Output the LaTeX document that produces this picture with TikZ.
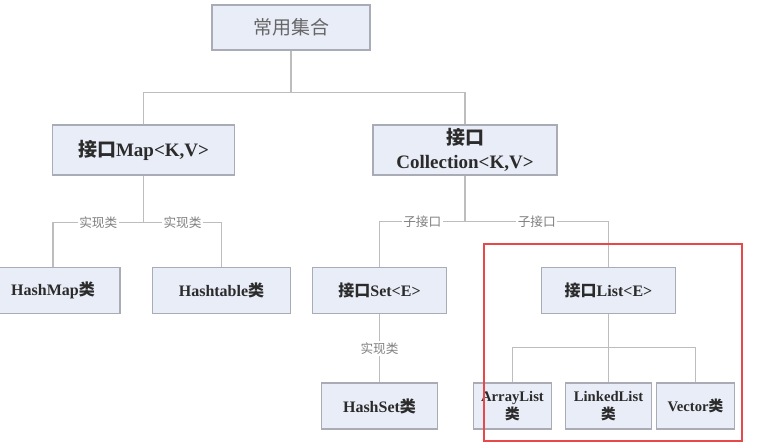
\documentclass[tikz,border=0pt]{standalone}
\usepackage{fontspec}
\setmainfont{Liberation Serif}
\newfontfamily\cjk{Noto Sans CJK SC}
\usepackage{xcolor}
\usetikzlibrary{positioning,calc}
\definecolor{boxfill}{HTML}{E9EDF7}
\definecolor{boxline}{HTML}{A9ACB4}
\definecolor{linkgray}{HTML}{BDBDBD}
\definecolor{txtdark}{HTML}{2B2B2B}
\definecolor{markred}{HTML}{E8484A}
\newcommand{\zh}[1]{{\cjk #1}}
\newcommand{\fbig}{\fontsize{14.25pt}{18pt}\selectfont}
\newcommand{\fmid}{\fontsize{12pt}{14pt}\selectfont}
\newcommand{\fsml}{\fontsize{11pt}{14pt}\selectfont}

\begin{document}
\begin{tikzpicture}[x=0.75pt, y=-0.75pt,
  box/.style={draw=boxline, fill=boxfill, line width=0.8pt, inner sep=0pt,
    text=txtdark, font=\bfseries, align=center},
  link/.style={draw=linkgray, line width=0.8pt},
  lbl/.style={fill=white, inner sep=1pt, text=gray, font=\cjk\fontsize{9.5pt}{11pt}\selectfont}]
\useasboundingbox (0,0) rectangle (769,444);
% levels
\node[box, minimum width=118.5pt, minimum height=33.75pt, font=\fbig, text=gray!80!black] (top) at (291,27.5) {\zh{常用集合}};
\node[box, minimum width=137pt, minimum height=37.5pt, font=\fbig\bfseries] (map) at (143.5,150) {\zh{接口}Map<K,V>};
\node[box, minimum width=138pt, minimum height=37.5pt, font=\fbig\bfseries] (coll) at (465,150) {\zh{接口}\\Collection<K,V>};
\node[box, minimum width=100.5pt, minimum height=35pt, font=\fmid\bfseries] (hashmap) at (53,290.5) {HashMap\zh{类}};
\node[box, minimum width=104pt, minimum height=35pt, font=\fmid\bfseries] (hashtable) at (221.5,290.5) {Hashtable\zh{类}};
\node[box, minimum width=100.5pt, minimum height=35pt, font=\fmid\bfseries] (set) at (379.5,290.5) {\zh{接口}Set<E>};
\node[box, minimum width=100pt, minimum height=35pt, font=\fmid\bfseries] (list) at (608.5,290.5) {\zh{接口}List<E>};
\node[box, minimum width=87pt, minimum height=34.5pt, font=\fmid\bfseries] (hashset) at (379.5,406) {HashSet\zh{类}};
\node[box, minimum width=59pt, minimum height=34.5pt, font=\fsml\bfseries] (array) at (512.5,406) {ArrayList\\\zh{类}};
\node[box, minimum width=64.5pt, minimum height=34.5pt, font=\fsml\bfseries] (linked) at (608.5,406) {LinkedList\\\zh{类}};
\node[box, minimum width=59pt, minimum height=34.5pt, font=\fsml\bfseries] (vector) at (695.5,406) {Vector\zh{类}};
% connectors
\coordinate (j0) at ($(top.south)+(0,42)$);
\draw[link] (top.south) -- (j0) -| (map.north);
\draw[link] (j0) -| (coll.north);
\coordinate (j1) at ($(map.south)+(0,47)$);
\draw[link] (map.south) -- (j1) -| node[pos=0.25, lbl] {实现类} (hashmap.north);
\draw[link] (j1) -| node[pos=0.25, lbl] {实现类} (hashtable.north);
\coordinate (j2) at ($(coll.south)+(0,46)$);
\draw[link] (coll.south) -- (j2) -| node[pos=0.25, lbl] {子接口} (set.north);
\draw[link] (j2) -| node[pos=0.25, lbl] {子接口} (list.north);
\draw[link] (set.south) -- node[lbl] {实现类} (hashset.north);
\coordinate (j3) at ($(list.south)+(0,33)$);
\draw[link] (list.south) -- (j3) -| (array.north);
\draw[link] (j3) -- (linked.north);
\draw[link] (j3) -| (vector.north);
% highlight
\draw[markred, line width=1.2pt] (484,244) rectangle (742,441);
\end{tikzpicture}
\end{document}
